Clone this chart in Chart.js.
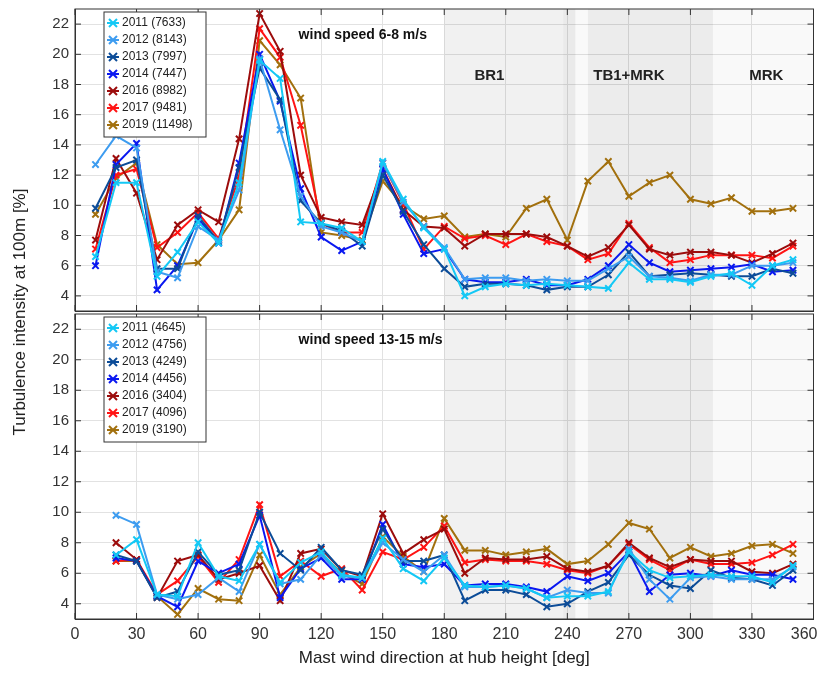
<!DOCTYPE html>
<html><head><meta charset="utf-8">
<script src="https://cdn.jsdelivr.net/npm/chart.js@4"></script>
<style>
body{margin:0;background:#fff;font-family:"Liberation Sans",Arial,sans-serif;overflow:hidden}
#wrap{position:relative;width:818px;height:673px;overflow:hidden}
canvas{position:absolute;left:0}
#ylab{position:absolute;left:-120px;top:302px;width:280px;text-align:center;transform:rotate(-90deg);font-size:17px;color:#222;white-space:nowrap}
</style></head><body>
<div id="wrap">
<canvas id="top" style="top:-6px"></canvas>
<canvas id="bot" style="top:299px"></canvas>
<div id="ylab">Turbulence intensity at 100m [%]</div>
</div>
<script>
// directions (deg)
const dirs = [10,20,30,40,50,60,70,80,90,100,110,120,130,140,150,160,170,180,190,200,210,220,230,240,250,260,270,280,290,300,310,320,330,340,350];
const yTicks = [4,6,8,10,12,14,16,18,20,22];
const xTicks = [0,30,60,90,120,150,180,210,240,270,300,330,360];
const years = ['2011','2012','2013','2014','2016','2017','2019'];
const colors = ['#14c8f5','#3d9cf0','#0c4c98','#0a18f0','#9c0c0c','#ff1414','#a2700e'];
const countsLow = ['7633','8143','7997','7447','8982','9481','11498'];
const countsHigh = ['4645','4756','4249','4456','3404','4096','3190'];

// wind speed 6-8 m/s
const low2011 = [6.6,11.5,11.5,5.3,6.9,8.9,7.5,11.5,19.6,18.4,8.9,8.8,8.5,7.6,12.9,10.4,8.5,7.1,4.0,4.6,4.8,4.7,4.8,4.7,4.6,4.5,6.2,5.1,5.1,4.9,5.3,5.5,4.7,6.0,6.4];
const low2012 = [12.7,14.6,13.8,5.6,5.2,8.6,7.7,11.0,19.7,15.0,10.6,8.6,8.2,7.6,12.8,10.2,8.6,7.2,5.1,5.2,5.2,5.0,5.1,5.0,5.0,5.8,6.6,5.3,5.2,5.0,5.4,5.4,6.0,6.0,6.2];
const low2013 = [9.8,12.5,13.0,5.8,5.8,9.3,7.6,12.5,19.1,17.0,10.3,8.8,8.3,7.3,12.0,9.6,7.4,5.8,4.6,4.8,4.8,4.7,4.4,4.6,4.6,5.4,6.9,5.3,5.4,5.5,5.4,5.3,5.3,5.8,5.5];
const low2014 = [6.0,12.7,14.1,4.4,6.0,9.1,7.5,12.8,20.0,16.9,11.1,7.9,7.0,7.6,12.4,9.4,6.8,7.1,5.1,4.9,4.9,5.1,4.7,4.7,5.1,6.0,7.4,6.2,5.6,5.7,5.8,5.9,6.1,5.6,5.7];
const low2016 = [7.7,13.1,10.8,6.4,8.7,9.7,8.9,14.4,22.7,20.2,12.0,9.2,8.9,8.7,12.4,9.7,8.6,8.5,7.3,8.1,8.1,8.1,7.9,7.3,6.6,7.2,8.7,7.1,6.7,6.9,6.9,6.7,6.2,6.8,7.5];
const low2017 = [7.1,12.0,12.4,7.2,8.2,9.5,7.8,11.9,21.7,19.8,15.3,8.8,8.2,8.2,12.8,10.1,7.1,8.6,7.8,8.0,7.4,8.1,7.6,7.3,6.4,6.8,8.8,7.2,6.2,6.4,6.7,6.7,6.7,6.5,7.3];
const low2019 = [9.4,11.8,12.8,7.4,6.1,6.2,7.7,9.7,20.9,19.3,17.1,8.2,8.0,7.7,11.6,10.0,9.1,9.3,7.9,8.1,7.9,9.8,10.4,7.7,11.6,12.9,10.6,11.5,12.0,10.4,10.1,10.5,9.6,9.6,9.8];

// wind speed 13-15 m/s (no value at 10 deg)
const high2011 = [null,7.2,8.2,4.6,4.5,8.0,5.8,5.5,7.9,5.4,6.7,7.4,5.9,5.7,8.3,6.3,5.5,7.0,5.2,5.1,5.2,5.0,4.4,4.5,4.5,4.8,7.4,6.2,5.7,5.8,5.9,5.8,5.8,5.4,6.5];
const high2012 = [null,9.8,9.2,4.6,4.3,4.6,5.7,4.8,7.9,5.3,5.6,7.2,5.8,5.7,8.0,6.9,6.1,7.2,5.1,5.1,5.2,5.0,4.4,4.9,4.7,4.7,7.6,5.6,4.3,5.7,5.8,5.6,5.6,5.6,6.4];
const high2013 = [null,7.2,6.8,4.4,4.8,7.4,5.9,6.2,10.0,7.3,6.2,7.7,6.2,5.9,8.9,6.8,6.8,7.2,4.2,4.9,4.9,4.6,3.8,4.0,4.8,5.4,7.2,5.9,5.2,5.0,6.2,5.7,5.6,5.2,6.2];
const high2014 = [null,7.0,6.8,4.5,3.8,6.8,6.0,6.6,9.8,4.4,6.3,7.0,5.6,5.6,9.2,6.6,6.4,6.6,5.2,5.3,5.3,5.1,4.8,5.8,5.5,6.0,7.4,4.8,5.9,6.0,5.8,6.2,5.9,5.9,5.6];
const high2016 = [null,8.0,6.9,4.4,6.8,7.2,5.6,6.0,6.5,4.2,7.3,7.6,6.2,5.8,9.9,7.3,8.2,8.9,6.0,7.0,6.9,6.9,7.1,6.3,6.1,6.5,8.0,7.0,6.4,6.9,6.8,6.8,6.1,6.0,6.6];
const high2017 = [null,6.8,6.9,4.6,5.5,7.1,5.4,6.9,10.5,5.8,6.8,5.8,6.3,4.9,7.4,6.9,7.7,9.1,6.7,6.9,6.8,6.8,6.6,6.2,6.0,6.5,7.9,6.9,6.2,6.9,6.6,6.6,6.7,7.2,7.9];
const high2019 = [null,6.8,6.8,4.5,3.3,5.0,4.3,4.2,7.2,4.6,6.4,7.3,6.0,5.3,8.4,7.1,6.1,9.6,7.5,7.5,7.2,7.4,7.6,6.6,6.8,7.9,9.3,8.9,7.0,7.7,7.1,7.3,7.8,7.9,7.3];

const lowSeries = [low2011,low2012,low2013,low2014,low2016,low2017,low2019];
const highSeries = [high2011,high2012,high2013,high2014,high2016,high2017,high2019];

// shaded sectors [from, to, fill]
const sectors = [
  [180, 244, 'rgba(0,0,0,0.055)'],
  [238, 244, 'rgba(0,0,0,0.03)'],
  [244, 360, 'rgba(0,0,0,0.025)'],
  [250, 311, 'rgba(0,0,0,0.055)']
];
const sectorLabels = [['BR1', 202], ['TB1+MRK', 270], ['MRK', 337]];

const FONT = '"Liberation Sans", Arial, sans-serif';

function makePanel(id, series, counts, title, showX, width, height, sectorText) {
  const el = document.getElementById(id);
  el.width = width; el.height = height;
  el.style.width = width + 'px'; el.style.height = height + 'px';
  const datasets = series.map((s, i) => ({
    label: years[i] + ' (' + counts[i] + ')',
    data: s.map((v, j) => ({x: dirs[j], y: v})),
    borderColor: colors[i], backgroundColor: colors[i],
    borderWidth: 2, pointStyle: 'crossRot', pointRadius: 4.5,
    pointBorderWidth: 2, tension: 0, spanGaps: false
  }));
  new Chart(el, {
    type: 'line',
    data: {datasets},
    options: {
      responsive: false, animation: false,
      layout: {padding: {top: 2, right: 3, left: 0, bottom: 0}},
      plugins: {legend: {display: false}, tooltip: {enabled: false}},
      scales: {
        x: {
          type: 'linear', min: 0, max: 360,
          afterBuildTicks: a => { a.ticks = xTicks.map(v => ({value: v})); },
          afterFit: a => { a.height = showX ? 54 : 4; },
          grid: {color: '#e2e2e2', drawTicks: false},
          border: {color: '#333'},
          ticks: {display: showX, color: '#333', font: {family: FONT, size: 16}, padding: 6,
                  callback: v => v === 360 ? '' : v},
          title: {display: showX, text: 'Mast wind direction at hub height [deg]', color: '#222', font: {family: FONT, size: 17}, padding: {top: 2}}
        },
        y: {
          min: 3, max: 23,
          afterBuildTicks: a => { a.ticks = yTicks.map(v => ({value: v})); },
          afterFit: a => { a.width = 75; },
          grid: {color: '#e2e2e2', drawTicks: false},
          border: {color: '#333'},
          ticks: {color: '#333', font: {family: FONT, size: 15}, padding: 6}
        }
      }
    },
    plugins: [{
      id: 'deco',
      beforeDatasetsDraw(c) {
        const {ctx, chartArea: a, scales: {x, y}} = c;
        ctx.save();
        sectors.forEach(([f, t, col]) => {
          ctx.fillStyle = col;
          const x0 = x.getPixelForValue(f), x1 = x.getPixelForValue(t);
          ctx.fillRect(x0, a.top, x1 - x0, a.bottom - a.top);
        });
        ctx.restore();
      },
      afterDatasetsDraw(c) {
        const {ctx, chartArea: a, scales: {x, y}} = c;
        ctx.save();
        ctx.strokeStyle = '#333'; ctx.lineWidth = 1;
        ctx.strokeRect(a.left, a.top, a.right - a.left, a.bottom - a.top);
        yTicks.forEach(v => {
          const py = y.getPixelForValue(v);
          ctx.beginPath(); ctx.moveTo(a.right, py); ctx.lineTo(a.right - 6, py); ctx.stroke();
          ctx.beginPath(); ctx.moveTo(a.left, py); ctx.lineTo(a.left + 6, py); ctx.stroke();
        });
        xTicks.forEach(v => {
          const px = x.getPixelForValue(v);
          ctx.beginPath(); ctx.moveTo(px, a.top); ctx.lineTo(px, a.top + 6); ctx.stroke();
          ctx.beginPath(); ctx.moveTo(px, a.bottom); ctx.lineTo(px, a.bottom - 6); ctx.stroke();
        });
        if (showX) {
          // last tick label kept inside the page
          ctx.fillStyle = '#333'; ctx.font = '16px ' + FONT;
          ctx.textAlign = 'right'; ctx.textBaseline = 'top';
          ctx.fillText('360', a.right + 4, a.bottom + 8);
          ctx.textAlign = 'left';
        }
        ctx.fillStyle = '#111';
        ctx.font = 'bold 14px ' + FONT;
        ctx.textBaseline = 'middle';
        ctx.fillText(title, x.getPixelForValue(109), y.getPixelForValue(21.3));
        if (sectorText) {
          ctx.font = 'bold 15px ' + FONT; ctx.textAlign = 'center';
          ctx.fillStyle = '#222';
          sectorLabels.forEach(([t, d]) => ctx.fillText(t, x.getPixelForValue(d), y.getPixelForValue(18.6)));
          ctx.textAlign = 'left';
        }
        // legend box
        const lx = a.left + 29, ly = a.top + 3, lw = 102, lh = 7 * 17 + 6;
        ctx.fillStyle = '#fff'; ctx.fillRect(lx, ly, lw, lh);
        ctx.strokeStyle = '#333'; ctx.strokeRect(lx, ly, lw, lh);
        ctx.font = '12px ' + FONT;
        c.data.datasets.forEach((d, i) => {
          const cy = ly + 11 + i * 17;
          ctx.strokeStyle = d.borderColor; ctx.lineWidth = 2;
          ctx.beginPath(); ctx.moveTo(lx + 3, cy); ctx.lineTo(lx + 15, cy); ctx.stroke();
          ctx.beginPath();
          ctx.moveTo(lx + 5, cy - 4); ctx.lineTo(lx + 13, cy + 4);
          ctx.moveTo(lx + 13, cy - 4); ctx.lineTo(lx + 5, cy + 4); ctx.stroke();
          ctx.fillStyle = '#222';
          ctx.fillText(d.label, lx + 18, cy);
        });
        ctx.restore();
      }
    }]
  });
}

makePanel('top', lowSeries, countsLow, 'wind speed 6-8 m/s', false, 820, 332, true);
makePanel('bot', highSeries, countsHigh, 'wind speed 13-15 m/s', true, 820, 374, false);
</script>
</body></html>
